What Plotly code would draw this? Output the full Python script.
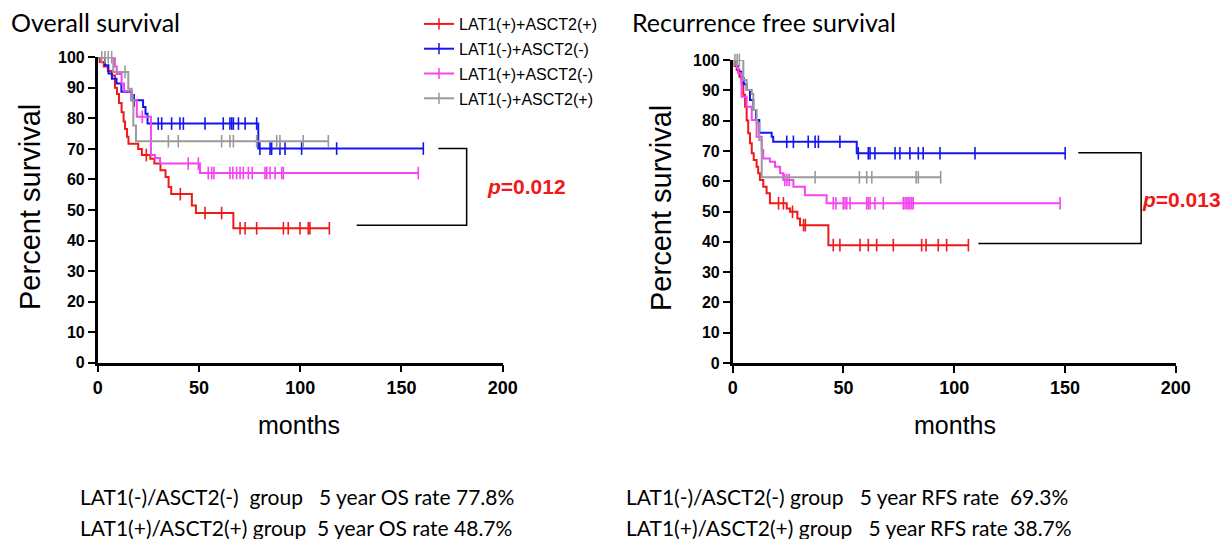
import numpy as np
import plotly.graph_objects as go

# ---------------- data (months, percent survival) ----------------
groups = ["LAT1(+)+ASCT2(+)", "LAT1(-)+ASCT2(-)", "LAT1(+)+ASCT2(-)", "LAT1(-)+ASCT2(+)"]
colors = ["#f01818", "#1515f0", "#f545f0", "#9a9a9a"]

# Overall survival: event times, survival after each event, censor times
os_red_t = [1, 3, 5, 7, 8.5, 9.5, 10.5, 11.8, 12.8, 13.5, 14.5, 15.2, 20, 21.8, 26, 28, 31, 33.5, 35, 36.3, 46.5, 48.5, 67]
os_red_s = [98.5, 97, 95.5, 94, 90, 88, 85, 82, 79, 76.5, 74, 71.7, 70, 68, 66.8, 65.2, 63, 60.8, 57.5, 55.2, 51.5, 49, 44]
os_red_c = [24, 40.8, 53, 61.2, 70.3, 72.8, 78.5, 91.7, 94.1, 99.9, 104, 104.8, 114.4]

os_blue_t = [3.6, 5.3, 7, 9.3, 11.7, 16.7, 22.4, 23.6, 24.6, 79.3]
os_blue_s = [97.4, 94.7, 93, 91.4, 88.7, 85.9, 83.7, 81.5, 78.3, 70.1]
os_blue_c = [18, 29.9, 31.6, 36.5, 40.6, 42.3, 53.0, 62.0, 65.3, 66.2, 67.0, 69.5, 72.8, 78.5,
             80.1, 85.1, 85.9, 90, 92.5, 100.7, 118, 160.8]

os_mag_t = [8.5, 9.4, 11.8, 13, 16.8, 19.3, 26.3, 28.3, 30.8, 50.5]
os_mag_s = [97, 94.5, 91.4, 89, 85.9, 80.5, 68, 67, 65.2, 62.1]
os_mag_c = [22, 44.7, 49.7, 54.6, 56.3, 57.4, 65.3, 66.7, 68.6, 70.3, 71.9, 74.4, 76.3, 82.6,
            83.5, 85.1, 87.6, 90.9, 91.7, 158.3]

os_gray_t = [7.7, 15.1, 16.8, 17.6, 18.9]
os_gray_s = [95.2, 89.7, 85.9, 77.7, 72.5]
os_gray_c = [2, 3.6, 5.2, 6.9, 13.5, 34.9, 39.8, 61.2, 65.3, 67, 78.5, 88.4, 90, 101.5, 113.9]

# Recurrence free survival
rfs_red_t = [0.8, 1.8, 3, 4, 4.8, 5.6, 6.3, 7, 7.8, 8.6, 9.5, 10.8, 11.5, 12.3, 13.8, 15.3, 16.8,
             24.4, 25.9, 29.2, 30.4, 43.2]
rfs_red_s = [98, 96.7, 94.5, 92.3, 88.5, 84.6, 80, 75.8, 72.5, 69.2, 67, 64.8, 62.6, 60.4, 58.2, 56,
             52.7, 51, 49.9, 47.7, 45.5, 38.9]
rfs_red_c = [20.7, 22.9, 27, 32, 32.8, 45.4, 48.4, 57.5, 61.2, 65, 72.5, 85.3, 87.3, 92.8, 96.6, 106.4]

rfs_blue_t = [1.5, 2.5, 4, 5, 6.3, 7.8, 9.3, 10.5, 12, 17.6, 18.3, 56]
rfs_blue_s = [98, 96.1, 94, 92, 90.1, 86.8, 83.5, 80.2, 76, 74.7, 73, 69.2]
rfs_blue_c = [24.4, 27.4, 34.1, 37.2, 38.7, 48.4, 56.7, 61.2, 62, 64.2, 73.3, 75.5, 80, 83.8, 86,
              93.6, 109.4, 150.1]

rfs_mag_t = [1.8, 2.5, 4, 6.3, 8.6, 10.8, 13.1, 13.8, 16.8, 19.1, 21.4, 22.8, 27.4, 32.6, 42.4]
rfs_mag_s = [97.5, 95.6, 87.9, 84.6, 80.2, 74.7, 70.3, 67.5, 66.4, 64.8, 62.6, 60.4, 58.2, 55.4, 52.7]
rfs_mag_c = [23.5, 24.5, 25.5, 45.4, 46.6, 49.9, 50.7, 51.5, 53, 60.5, 61.2, 62, 64.2, 68, 77, 77.8,
             78.6, 79.3, 80, 80.8, 81.5, 147.8]

rfs_gray_t = [4.8, 6.3, 8.6, 9.3, 10.8, 12, 13.1]
rfs_gray_s = [93.4, 90.1, 88.9, 83.5, 79.1, 73.6, 61.3]
rfs_gray_c = [1, 2, 3, 37.2, 57.2, 60.5, 62.8, 82.8, 83.8, 93.9]

os_p_text = "<i>p</i>=0.012"
rfs_p_text = "<i>p</i>=0.013"
# bracket joining the compared curves: [x_top_start, x_right, x_bottom_start, y_top, y_bottom]
os_bracket = [168.2, 182.2, 127.9, 70.1, 45.0]
rfs_bracket = [156.0, 184.4, 110.9, 69.4, 39.4]

x_ticks = [0, 50, 100, 150, 200]
y_ticks = [0, 10, 20, 30, 40, 50, 60, 70, 80, 90, 100]

os_notes = ["LAT1(-)/ASCT2(-)\u00a0\u00a0group\u00a0\u00a0\u00a05 year OS rate 77.8%",
            "LAT1(+)/ASCT2(+)\u00a0group\u00a0\u00a05 year OS rate 48.7%"]
rfs_notes = ["LAT1(-)/ASCT2(-)\u00a0group\u00a0\u00a0\u00a05 year RFS rate\u00a0\u00a069.3%",
             "LAT1(+)/ASCT2(+)\u00a0group\u00a0\u00a0\u00a05 year RFS rate 38.7%"]

os_data = [(os_red_t, os_red_s, os_red_c), (os_blue_t, os_blue_s, os_blue_c),
           (os_mag_t, os_mag_s, os_mag_c), (os_gray_t, os_gray_s, os_gray_c)]
rfs_data = [(rfs_red_t, rfs_red_s, rfs_red_c), (rfs_blue_t, rfs_blue_s, rfs_blue_c),
            (rfs_mag_t, rfs_mag_s, rfs_mag_c), (rfs_gray_t, rfs_gray_s, rfs_gray_c)]

# ---------------- figure ----------------
W, H = 1226, 539
fig = go.Figure()

def km_at(t_ev, s_ev, t):
    idx = np.searchsorted(np.asarray(t_ev), t, side="right")
    s = np.concatenate([[100.0], np.asarray(s_ev, float)])
    return s[idx]

def add_km(data, xa, ya):
    for i, (t_ev, s_ev, c) in enumerate(data):
        end = max(max(c), max(t_ev))
        xs = [0] + list(t_ev) + [end]
        ys = [100] + list(s_ev) + [s_ev[-1]]
        fig.add_trace(go.Scatter(x=xs, y=ys, mode="lines", line=dict(color=colors[i], width=2, shape="hv"),
                                 xaxis=xa, yaxis=ya, showlegend=False, legendgroup=groups[i],
                                 hoverinfo="skip", cliponaxis=False))
        fig.add_trace(go.Scatter(x=c, y=km_at(t_ev, s_ev, c), mode="markers",
                                 marker=dict(symbol="line-ns", size=9, line=dict(color=colors[i], width=1.6)),
                                 xaxis=xa, yaxis=ya, showlegend=False, legendgroup=groups[i],
                                 hoverinfo="skip", cliponaxis=False))

add_km(os_data, "x", "y")
add_km(rfs_data, "x2", "y2")

# legend entries (line with a censor tick)
for i, g in enumerate(groups):
    fig.add_trace(go.Scatter(x=[None], y=[None], mode="lines+markers", name=g, legendgroup=g,
                             line=dict(color=colors[i], width=2),
                             marker=dict(symbol="line-ns", size=8, line=dict(color=colors[i], width=1.5))))

def px_x(p):
    return p / W

def px_y(p):
    return 1 - p / H

axis_common = dict(showgrid=False, zeroline=False, showline=True, linecolor="black", linewidth=2.5,
                   ticks="outside", ticklen=7, tickwidth=2, tickcolor="black", automargin=False)

fig.update_layout(
    template="none",
    width=W, height=H, autosize=False,
    margin=dict(l=0, r=0, t=0, b=0, pad=0),
    paper_bgcolor="white", plot_bgcolor="white",
    xaxis=dict(domain=[px_x(97.7), px_x(502.7)], range=[0, 200], tickvals=x_ticks, anchor="y",
               tickfont=dict(family="Liberation Sans", size=18, color="black", weight="bold"), **axis_common),
    yaxis=dict(domain=[px_y(362.7), px_y(57.3)], range=[0, 100], tickvals=y_ticks, anchor="x",
               tickfont=dict(family="Liberation Sans", size=16, color="black", weight="bold"), **axis_common),
    xaxis2=dict(domain=[px_x(732.7), px_x(1175.7)], range=[0, 200], tickvals=x_ticks, anchor="y2",
                tickfont=dict(family="Liberation Sans", size=18, color="black", weight="bold"), **axis_common),
    yaxis2=dict(domain=[px_y(363), px_y(60)], range=[0, 100], tickvals=y_ticks, anchor="x2",
                tickfont=dict(family="Liberation Sans", size=16, color="black", weight="bold"), **axis_common),
    legend=dict(x=px_x(419), y=px_y(7), xanchor="left", yanchor="top", bgcolor="rgba(0,0,0,0)",
                font=dict(family="Liberation Sans", size=16, color="black"),
                tracegroupgap=1, traceorder="grouped", itemclick=False, borderwidth=0),
    showlegend=True,
)

# brackets
for br, xa, ya in [(os_bracket, "x", "y"), (rfs_bracket, "x2", "y2")]:
    x0, x1, x2b, yt, yb = br
    fig.add_shape(type="path", path=f"M {x0},{yt} L {x1},{yt} L {x1},{yb} L {x2b},{yb}",
                  xref=xa, yref=ya, line=dict(color="black", width=1.5))

ann = []
title_font = dict(family="Lato", size=25, color="black")
ann.append(dict(text="Overall survival", x=px_x(9), y=px_y(22), xanchor="left", yanchor="middle", font=title_font))
ann.append(dict(text="Recurrence free survival", x=px_x(630), y=px_y(22), xanchor="left", yanchor="middle", font=title_font))
lab_font = dict(family="Liberation Sans", size=29, color="black")
ann.append(dict(text="Percent survival", x=px_x(30), y=px_y(207), textangle=-90, xanchor="center", yanchor="middle", font=lab_font))
ann.append(dict(text="Percent survival", x=px_x(661), y=px_y(208), textangle=-90, xanchor="center", yanchor="middle", font=lab_font))
mfont = dict(family="Liberation Sans", size=25, color="black")
ann.append(dict(text="months", x=px_x(299), y=px_y(425), xanchor="center", yanchor="middle", font=mfont))
ann.append(dict(text="months", x=px_x(955), y=px_y(425), xanchor="center", yanchor="middle", font=mfont))
pfont = dict(family="Liberation Sans", size=21, color="#f01818", weight="bold")
ann.append(dict(text=os_p_text, x=px_x(526), y=px_y(187), xanchor="center", yanchor="middle", font=pfont))
ann.append(dict(text=rfs_p_text, x=px_x(1181), y=px_y(199), xanchor="center", yanchor="middle", font=pfont))
nfont = dict(family="Lato", size=21, color="black")
for k, t in enumerate(os_notes):
    ann.append(dict(text=t, x=px_x(78), y=px_y(496 + 31 * k), xanchor="left", yanchor="middle", font=nfont))
for k, t in enumerate(rfs_notes):
    ann.append(dict(text=t, x=px_x(624), y=px_y(496 + 31 * k), xanchor="left", yanchor="middle", font=nfont))
for a in ann:
    a.update(xref="paper", yref="paper", showarrow=False)
fig.update_layout(annotations=ann)

fig.write_html("out.html", config={"displayModeBar": False},
               post_script="document.body.style.margin='0px';document.body.style.overflow='hidden';")
